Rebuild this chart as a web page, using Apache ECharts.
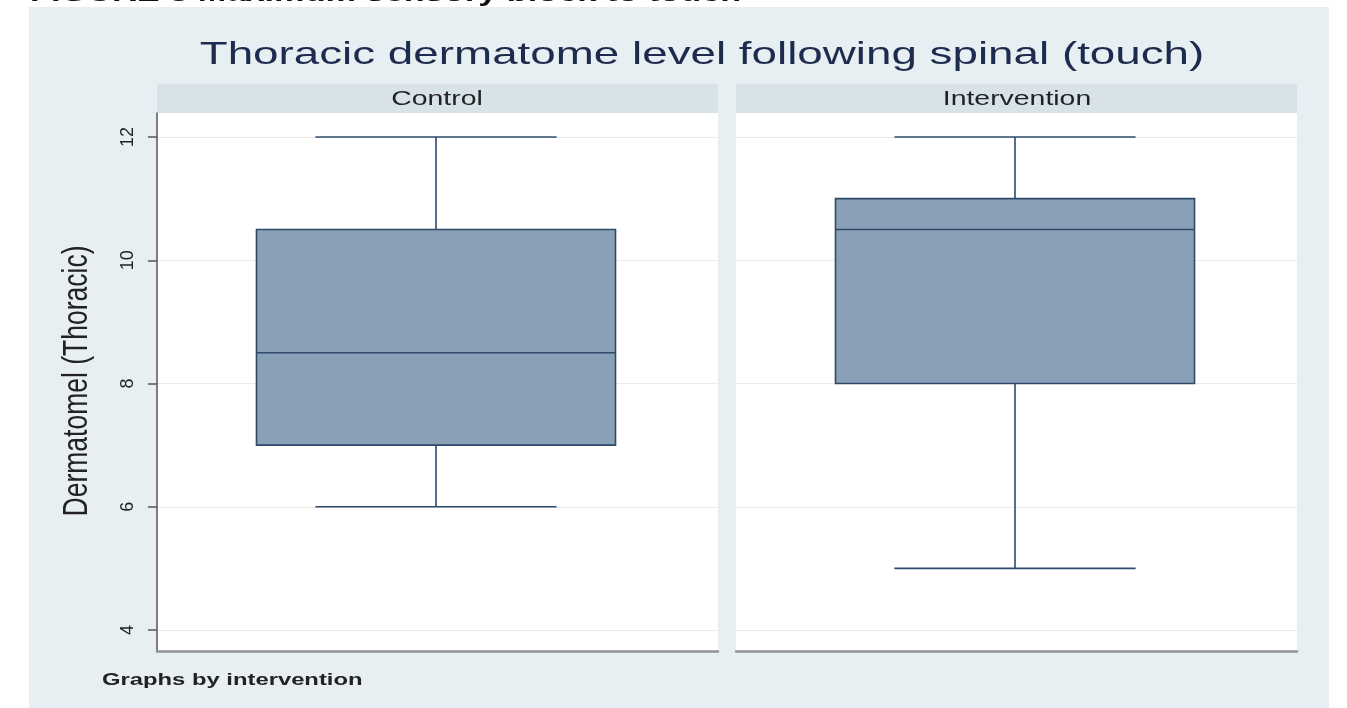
<!DOCTYPE html>
<html>
<head>
<meta charset="utf-8">
<script src="https://cdn.jsdelivr.net/npm/echarts@6/dist/echarts.min.js"></script>
<style>
  html, body { margin: 0; padding: 0; background: #ffffff; }
  #chart { width: 1347px; height: 708px; }
</style>
</head>
<body>
<div id="chart"></div>
<script>
  // panels (by intervention)
  const groups = ['Control', 'Intervention']
  // box stats: [min, q1, median, q3, max]
  const controlBox = [6, 7, 8.5, 10.5, 12]
  const interventionBox = [5, 8, 10.5, 11, 12]
  const yTicks = [4, 6, 8, 10, 12]

  const boxColor = '#8aa0b6'
  const edgeColor = '#2e4a6b'

  function renderBox (params, api) {
    const x = api.value(0)
    const band = api.size([1, 0])[0]
    const boxW = band * 0.64
    const capW = band * 0.43
    const pMin = api.coord([x, api.value(1)])
    const pQ1 = api.coord([x, api.value(2)])
    const pMed = api.coord([x, api.value(3)])
    const pQ3 = api.coord([x, api.value(4)])
    const pMax = api.coord([x, api.value(5)])
    const cx = pMed[0] - 1.5
    const line = { stroke: edgeColor, lineWidth: 1.6 }
    return {
      type: 'group',
      children: [
        { type: 'line', shape: { x1: cx, y1: pMax[1], x2: cx, y2: pQ3[1] }, style: line },
        { type: 'line', shape: { x1: cx, y1: pQ1[1], x2: cx, y2: pMin[1] }, style: line },
        { type: 'line', shape: { x1: cx - capW / 2, y1: pMax[1], x2: cx + capW / 2, y2: pMax[1] }, style: line },
        { type: 'line', shape: { x1: cx - capW / 2, y1: pMin[1], x2: cx + capW / 2, y2: pMin[1] }, style: line },
        { type: 'rect', shape: { x: cx - boxW / 2, y: pQ3[1], width: boxW, height: pQ1[1] - pQ3[1] },
          style: { fill: boxColor, stroke: edgeColor, lineWidth: 1.6 } },
        { type: 'line', shape: { x1: cx - boxW / 2, y1: pMed[1], x2: cx + boxW / 2, y2: pMed[1] }, style: line }
      ]
    }
  }

  const myChart = echarts.init(document.getElementById('chart'))

  const yBase = {
    type: 'value',
    min: 3.66,
    max: 12.39,
    splitLine: { show: true, lineStyle: { color: '#ebebeb', width: 1.2 } },
    axisTick: { customValues: yTicks },
    axisLabel: { customValues: yTicks }
  }

  myChart.setOption({
    animation: false,
    backgroundColor: '#ffffff',
    graphic: [
      { type: 'rect', z: -10, shape: { x: 29, y: 7, width: 1300, height: 701 }, style: { fill: '#e8eff2' } },
      { type: 'text', x: 30, y: -19, scaleX: 1.32, style: { text: 'FIGURE 3 Maximum sensory block to touch', font: 'bold 26px Arial', fill: '#111' } },
      { type: 'text', x: 702, y: 55, scaleX: 1.43, style: { text: 'Thoracic dermatome level following spinal (touch)', font: '32px Arial', fill: '#1c2b4e', align: 'center', verticalAlign: 'middle' } },
      { type: 'rect', shape: { x: 157, y: 84, width: 561, height: 29 }, style: { fill: '#d8e2e9' } },
      { type: 'rect', shape: { x: 736, y: 84, width: 561, height: 29 }, style: { fill: '#d8e2e9' } },
      { type: 'text', x: 437, y: 99, scaleX: 1.42, style: { text: groups[0], font: '20px Arial', fill: '#222', align: 'center', verticalAlign: 'middle' } },
      { type: 'text', x: 1017, y: 99, scaleX: 1.42, style: { text: groups[1], font: '20px Arial', fill: '#222', align: 'center', verticalAlign: 'middle' } },
      { type: 'text', x: 77, y: 381, rotation: Math.PI / 2, scaleY: 1.3, style: { text: 'Dermatomel (Thoracic)', font: '26.5px Arial', fill: '#222', align: 'center', verticalAlign: 'middle' } },
      { type: 'text', x: 102, y: 680, scaleX: 1.4, style: { text: 'Graphs by intervention', font: 'bold 17px Arial', fill: '#222', verticalAlign: 'middle' } }
    ],
    grid: [
      { left: 157, right: 1347 - 718, top: 113, bottom: 57, show: true, backgroundColor: '#ffffff', borderWidth: 0 },
      { left: 736, right: 1347 - 1297, top: 113, bottom: 57, show: true, backgroundColor: '#ffffff', borderWidth: 0 }
    ],
    xAxis: [
      { type: 'category', gridIndex: 0, data: [groups[0]], axisLabel: { show: false }, axisTick: { show: false },
        axisLine: { lineStyle: { color: '#8d9398', width: 2.5 } } },
      { type: 'category', gridIndex: 1, data: [groups[1]], axisLabel: { show: false }, axisTick: { show: false },
        axisLine: { lineStyle: { color: '#8d9398', width: 2.5 } } }
    ],
    yAxis: [
      Object.assign({}, yBase, {
        gridIndex: 0,
        axisLine: { show: true, lineStyle: { color: '#555', width: 1.5 } },
        axisTick: { show: true, length: 9, customValues: yTicks, lineStyle: { color: '#555', width: 1.5 } },
        axisLabel: { show: true, customValues: yTicks, rotate: 90, margin: 20, fontSize: 18, color: '#222', fontFamily: 'Arial' }
      }),
      Object.assign({}, yBase, {
        gridIndex: 1,
        axisLine: { show: false },
        axisTick: { show: false, customValues: yTicks },
        axisLabel: { show: false, customValues: yTicks }
      })
    ],
    series: [
      { type: 'custom', xAxisIndex: 0, yAxisIndex: 0, renderItem: renderBox,
        encode: { x: 0, y: [1, 2, 3, 4, 5] }, data: [[0].concat(controlBox)] },
      { type: 'custom', xAxisIndex: 1, yAxisIndex: 1, renderItem: renderBox,
        encode: { x: 0, y: [1, 2, 3, 4, 5] }, data: [[0].concat(interventionBox)] }
    ]
  })
</script>
</body>
</html>
